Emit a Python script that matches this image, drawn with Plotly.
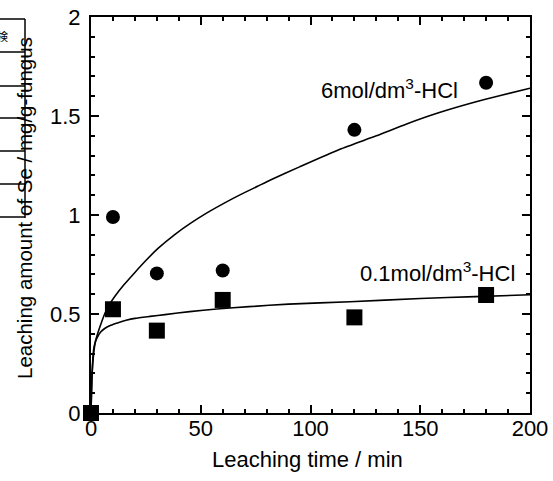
import plotly.graph_objects as go

# ---- data ----
time_6M = [0, 10, 30, 60, 120, 180]
se_6M = [0, 0.99, 0.705, 0.72, 1.43, 1.668]

time_01M = [0, 10, 30, 60, 120, 180]
se_01M = [0, 0.524, 0.416, 0.571, 0.483, 0.596]

fit6_t = [0, 0.5, 1.2, 2, 3.3, 5, 6.4, 8.5, 10.9, 15.2, 20, 25, 30.4, 38, 45.6, 53.2, 60.7,
          68.3, 75.9, 82, 95, 113.4, 130, 143.8, 158, 174.2, 187, 200]
fit6_v = [0, 0.2, 0.3, 0.36, 0.41, 0.465, 0.505, 0.55, 0.59, 0.65, 0.71, 0.77, 0.83, 0.9, 0.96,
          1.013, 1.06, 1.104, 1.145, 1.178, 1.243, 1.332, 1.40, 1.46, 1.515, 1.568, 1.605, 1.64]

fit01_t = [0, 0.5, 1.2, 2, 3, 4.5, 6.4, 9, 12.4, 16, 20, 26.9, 33.7, 45, 57.3, 72, 90, 118, 150, 175, 200]
fit01_v = [0, 0.2, 0.32, 0.36, 0.385, 0.41, 0.428, 0.443, 0.456, 0.468, 0.478, 0.488, 0.497, 0.512,
           0.525, 0.537, 0.55, 0.562, 0.578, 0.588, 0.597]

label_6M = "6mol/dm<sup>3</sup>-HCl"
label_01M = "0.1mol/dm<sup>3</sup>-HCl"
x_title = "Leaching time / min"
y_title = "Leaching amount of Se / mg/g-fungus"

W, H = 553, 481
L, R, T, B = 91, 23, 17, 68
PW, PH = W - L - R, H - T - B

def px(x):
    return (x - L) / PW

def py(y):
    return (H - B - y) / PH

FONT = "Arial, Liberation Sans, sans-serif"

fig = go.Figure()
fig.add_trace(go.Scatter(x=fit6_t, y=fit6_v, mode="lines",
                         line=dict(color="black", width=1.6, shape="spline", smoothing=0.6),
                         cliponaxis=False, showlegend=False))
fig.add_trace(go.Scatter(x=fit01_t, y=fit01_v, mode="lines",
                         line=dict(color="black", width=1.6, shape="spline", smoothing=0.6),
                         cliponaxis=False, showlegend=False))
fig.add_trace(go.Scatter(x=time_6M, y=se_6M, mode="markers",
                         marker=dict(symbol="circle", size=14, color="black", line=dict(width=0)),
                         cliponaxis=False, showlegend=False))
fig.add_trace(go.Scatter(x=time_01M, y=se_01M, mode="markers",
                         marker=dict(symbol="square", size=16, color="black", line=dict(width=0)),
                         cliponaxis=False, showlegend=False))

axis_common = dict(
    showline=True, linecolor="black", linewidth=2, mirror="ticks",
    ticks="inside", ticklen=8, tickwidth=2, tickcolor="black",
    showgrid=False, zeroline=False, layer="below traces", automargin=False,
    tickfont=dict(family=FONT, size=22, color="black"),
)
fig.update_xaxes(range=[0, 200], dtick=50, tick0=0,
                 minor=dict(dtick=10, ticks="inside", ticklen=4, tickwidth=2, tickcolor="black"),
                 ticklabelstandoff=-5, **axis_common)
fig.update_yaxes(range=[0, 2], dtick=0.5, tick0=0,
                 minor=dict(dtick=0.1, ticks="inside", ticklen=4, tickwidth=2, tickcolor="black"),
                 ticklabelstandoff=4, **axis_common)

annotations = [
    dict(x=px(213 + 189 / 2), y=py(459), xref="paper", yref="paper", text=x_title,
         showarrow=False, xanchor="center", yanchor="middle",
         font=dict(family=FONT, size=22, color="black")),
    dict(x=px(24), y=py(208), xref="paper", yref="paper", text=y_title, textangle=-90,
         showarrow=False, xanchor="center", yanchor="middle",
         font=dict(family=FONT, size=20.5, color="black")),
    dict(x=px(319), y=py(89), xref="paper", yref="paper", text=label_6M,
         showarrow=False, xanchor="left", yanchor="middle",
         font=dict(family=FONT, size=22, color="black")),
    dict(x=px(358), y=py(272), xref="paper", yref="paper", text=label_01M,
         showarrow=False, xanchor="left", yanchor="middle",
         font=dict(family=FONT, size=22, color="black")),
    dict(x=px(10), y=py(36), xref="paper", yref="paper", text="検",
         showarrow=False, xanchor="right", yanchor="middle",
         font=dict(family="Noto Sans CJK JP", size=11, color="black")),
]

# cropped table fragment on the left edge of the source image
shapes = []
for yy in [19, 52, 86, 118, 151, 184, 217]:
    shapes.append(dict(type="line", xref="paper", yref="paper",
                       x0=px(0), x1=px(25), y0=py(yy), y1=py(yy),
                       line=dict(color="black", width=1.5)))
shapes.append(dict(type="line", xref="paper", yref="paper",
                   x0=px(25), x1=px(25), y0=py(19), y1=py(218),
                   line=dict(color="black", width=1.5)))

fig.update_layout(
    width=W, height=H,
    margin=dict(l=L, r=R, t=T, b=B, pad=0, autoexpand=False),
    paper_bgcolor="white", plot_bgcolor="white",
    annotations=annotations, shapes=shapes,
    font=dict(family=FONT, color="black"),
)

fig.write_html("out.html")
